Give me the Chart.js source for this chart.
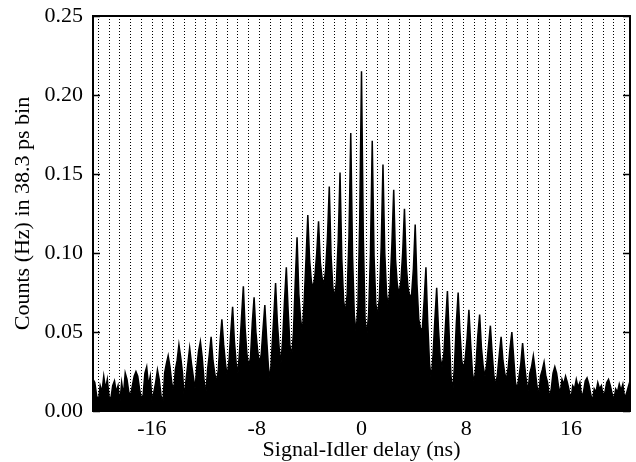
<!DOCTYPE html>
<html>
<head>
<meta charset="utf-8">
<script src="https://cdn.jsdelivr.net/npm/chart.js@4.4.1/dist/chart.umd.min.js"></script>
<style>
  html, body { margin: 0; padding: 0; background: #fff; }
  #wrap { width: 636px; height: 462px; }
</style>
</head>
<body>
<div id="wrap"><canvas id="myChart"></canvas></div>
<script>
// comb tooth tops, left to right, one every 0.82 ns starting at -20.5 ns
const peaks = [
  0.020, 0.022, 0.019, 0.024, 0.025, 0.028, 0.026, 0.035, 0.042, 0.040,
  0.044, 0.047, 0.058, 0.066, 0.079, 0.072, 0.067, 0.081, 0.091, 0.110,
  0.124, 0.120, 0.142, 0.151, 0.176, 0.215, 0.171, 0.156, 0.140, 0.128,
  0.118, 0.091, 0.078, 0.076, 0.075, 0.064, 0.061, 0.054, 0.047, 0.050,
  0.043, 0.035, 0.031, 0.028, 0.022, 0.020, 0.021, 0.018, 0.020, 0.017,
  0.019
];
// minimum between tooth j and tooth j+1
const valleys = [
  0.006, 0.009, 0.005, 0.010, 0.008, 0.006, 0.004, 0.012, 0.008, 0.014,
  0.010, 0.018, 0.022, 0.024, 0.028, 0.030, 0.020, 0.030, 0.034, 0.050,
  0.078, 0.080, 0.072, 0.062, 0.050, 0.048, 0.060, 0.066, 0.074, 0.072,
  0.052, 0.020, 0.028, 0.012, 0.026, 0.018, 0.022, 0.016, 0.020, 0.014,
  0.012, 0.010, 0.008, 0.011, 0.007, 0.009, 0.006, 0.010, 0.007, 0.008
];
// in-between bins of each gap: [after tooth j, before valley, after valley, before tooth j+1]
const flanks = [
  [0.018, 0.010, 0.016, 0.012], [0.014, 0.020, 0.008, 0.016], [0.012, 0.016, 0.018, 0.010],
  [0.020, 0.012, 0.016, 0.022], [0.022, 0.014, 0.010, 0.024], [0.016, 0.022, 0.012, 0.018],
  [0.020, 0.010, 0.024, 0.030], [0.028, 0.018, 0.026, 0.032], [0.034, 0.024, 0.020, 0.030],
  [0.030, 0.022, 0.028, 0.038], [0.034, 0.020, 0.026, 0.036], [0.032, 0.024, 0.026, 0.044],
  [0.042, 0.030, 0.032, 0.050], [0.044, 0.030, 0.040, 0.060], [0.052, 0.036, 0.034, 0.056],
  [0.050, 0.038, 0.036, 0.052], [0.046, 0.028, 0.040, 0.060], [0.056, 0.040, 0.046, 0.070],
  [0.064, 0.042, 0.050, 0.082], [0.074, 0.058, 0.070, 0.096], [0.096, 0.082, 0.086, 0.100],
  [0.094, 0.084, 0.090, 0.110], [0.098, 0.078, 0.082, 0.108], [0.096, 0.070, 0.074, 0.110],
  [0.098, 0.060, 0.066, 0.120], [0.110, 0.058, 0.062, 0.100], [0.098, 0.068, 0.072, 0.104],
  [0.100, 0.074, 0.080, 0.106], [0.096, 0.080, 0.082, 0.100], [0.092, 0.078, 0.074, 0.090],
  [0.080, 0.058, 0.052, 0.070], [0.056, 0.030, 0.036, 0.058], [0.052, 0.034, 0.036, 0.056],
  [0.048, 0.022, 0.030, 0.056], [0.050, 0.032, 0.034, 0.046], [0.042, 0.024, 0.030, 0.048],
  [0.040, 0.028, 0.030, 0.042], [0.036, 0.022, 0.024, 0.036], [0.032, 0.024, 0.028, 0.040],
  [0.034, 0.018, 0.022, 0.030], [0.030, 0.020, 0.024, 0.028], [0.026, 0.016, 0.022, 0.026],
  [0.022, 0.018, 0.014, 0.024], [0.024, 0.016, 0.020, 0.017], [0.018, 0.013, 0.016, 0.014],
  [0.015, 0.018, 0.012, 0.019], [0.017, 0.011, 0.014, 0.012], [0.014, 0.016, 0.012, 0.018],
  [0.016, 0.011, 0.014, 0.012], [0.013, 0.017, 0.011, 0.015]
];
const xTicks = [-16, -8, 0, 8, 16];
const yTicks = [0, 0.05, 0.10, 0.15, 0.20, 0.25];

const xMin = -20.5, xMax = 20.5;
const period = 0.82; // comb spacing in ns

// histogram points: tooth, two flank bins, valley, two flank bins, tooth...
const points = [];
peaks.forEach((p, j) => {
  const t = xMin + j * period;
  points.push({ x: t, y: p });
  if (j < valleys.length) {
    const f = flanks[j];
    points.push({ x: t + period / 6, y: f[0] });
    points.push({ x: t + period * 2 / 6, y: f[1] });
    points.push({ x: t + period / 2, y: valleys[j] });
    points.push({ x: t + period * 4 / 6, y: f[2] });
    points.push({ x: t + period * 5 / 6, y: f[3] });
  }
});

// dotted guide lines sit between the teeth
const guideLines = valleys.map((v, j) => xMin + (j + 0.5) * period);

const frame = {
  id: 'frame',
  afterDraw(chart) {
    const { ctx, chartArea: a, scales } = chart;
    ctx.save();
    ctx.strokeStyle = '#000';
    ctx.lineWidth = 2;
    ctx.strokeRect(a.left, a.top, a.right - a.left, a.bottom - a.top);
    ctx.lineWidth = 1.5;
    yTicks.forEach(v => {
      const y = Math.round(scales.y.getPixelForValue(v)) + 0.5;
      ctx.beginPath();
      ctx.moveTo(a.left, y); ctx.lineTo(a.left + 7, y);
      ctx.moveTo(a.right, y); ctx.lineTo(a.right - 7, y);
      ctx.stroke();
    });
    ctx.restore();
  }
};

Chart.defaults.font.family = '"Liberation Serif", "Times New Roman", serif';
Chart.defaults.font.size = 22;
Chart.defaults.color = '#000';

new Chart(document.getElementById('myChart'), {
  type: 'line',
  data: {
    datasets: [{
      data: points,
      borderColor: '#000',
      backgroundColor: '#000',
      borderWidth: 1.5,
      fill: 'origin',
      pointRadius: 0,
      tension: 0
    }]
  },
  options: {
    responsive: true,
    maintainAspectRatio: false,
    animation: false,
    layout: { padding: { top: 16, right: 6, left: 0, bottom: 0 } },
    plugins: { legend: { display: false }, tooltip: { enabled: false } },
    scales: {
      x: {
        type: 'linear', min: xMin, max: xMax,
        afterBuildTicks: s => { s.ticks = xTicks.map(v => ({ value: v })); },
        afterFit: s => { s.height = 51; s.paddingLeft = 0; s.paddingRight = 0; },
        grid: { display: false, drawTicks: false },
        border: { display: false },
        ticks: { padding: 5, maxRotation: 0, callback: v => String(v) },
        title: {
          display: true, text: 'Signal-Idler delay (ns)',
          font: { size: 22, lineHeight: 1 }, padding: { top: 0, bottom: 1 }
        }
      },
      xg: {
        type: 'linear', position: 'top', min: xMin, max: xMax,
        afterBuildTicks: s => { s.ticks = guideLines.map(v => ({ value: v })); },
        afterFit: s => { s.height = 0; s.paddingLeft = 0; s.paddingRight = 0; },
        ticks: { display: false },
        border: { display: false, dash: [1, 2] },
        grid: { display: true, drawTicks: false, color: '#000', lineWidth: 1 }
      },
      y: {
        min: 0, max: 0.25,
        afterBuildTicks: s => { s.ticks = yTicks.map(v => ({ value: v })); },
        afterFit: s => { s.width = 93; s.paddingTop = 0; s.paddingBottom = 0; },
        grid: { display: false, drawTicks: false },
        border: { display: false },
        ticks: { padding: 10, callback: v => v.toFixed(2) },
        title: {
          display: true, text: 'Counts (Hz) in 38.3 ps bin',
          font: { size: 22, lineHeight: 1 }, padding: { top: 12, bottom: 0 }
        }
      }
    }
  },
  plugins: [frame]
});
</script>
</body>
</html>
